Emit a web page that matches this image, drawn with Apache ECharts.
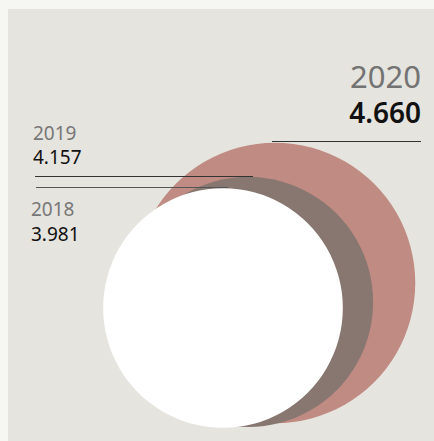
<!DOCTYPE html>
<html>
<head>
<meta charset="utf-8">
<script src="https://cdn.jsdelivr.net/npm/echarts@6/dist/echarts.min.js"></script>
<style>
  html, body { margin: 0; padding: 0; background: #f6f6f2; }
  #chart { width: 434px; height: 441px; }
</style>
</head>
<body>
<div id="chart"></div>
<script>
// data
const years = ["2018", "2019", "2020"];
const values = [3.981, 4.157, 4.660];
const valueLabels = ["3.981", "4.157", "4.660"];

// layout (pixel space of the hidden axes)
const centerX = [223, 248, 275];
const centerY = [308, 302, 283];
const PX_PER_UNIT = 30.1; // circle radius per value unit
const COLORS = ["#ffffff", "#877770", "#c08b82"];
const FONT = "'Noto Sans', 'Open Sans', sans-serif";

const chart = echarts.init(document.getElementById("chart"), null, { renderer: "svg" });

// lines from the labels to the top of each circle
const lineSpecs = [
  { from: 36, to: 228 },  // 2018
  { from: 35, to: 253 },  // 2019
  { from: 272, to: 421 }, // 2020
];
const lineColors = ["#555", "#333", "#333"];

// draw biggest first so the smaller circles sit on top
const order = [2, 1, 0];

const series = order.map((i) => {
  const r = values[i] * PX_PER_UNIT;
  const yLine = centerY[i] - r - 1;
  return {
    name: years[i],
    type: "scatter",
    symbol: "circle",
    symbolSize: r * 2,
    silent: true,
    itemStyle: { color: COLORS[i], opacity: 1 },
    data: [[centerX[i], centerY[i], values[i]]],
    markLine: {
      silent: true,
      symbol: "none",
      label: { show: false },
      lineStyle: { color: lineColors[i], width: 1, type: "solid" },
      data: [[
        { coord: [lineSpecs[i].from, yLine] },
        { coord: [lineSpecs[i].to, yLine] },
      ]],
    },
  };
});

const option = {
  backgroundColor: "#f6f6f2",
  animation: false,
  grid: {
    show: true,
    left: 8, top: 9, right: 0, bottom: 0,
    backgroundColor: "#e5e4de",
    borderWidth: 0,
  },
  xAxis: { type: "value", min: 8, max: 434, show: false },
  yAxis: { type: "value", min: 9, max: 441, inverse: true, show: false },
  series: series,
  graphic: [
    {
      type: "text", right: 13, top: 60,
      style: { text: years[2], font: "normal 31px " + FONT, fill: "#737373" },
    },
    {
      type: "text", right: 13, top: 98,
      style: { text: valueLabels[2], font: "600 28px " + FONT, fill: "#111" },
    },
    {
      type: "text", left: 33, top: 123,
      style: { text: years[1], font: "normal 19px " + FONT, fill: "#777" },
    },
    {
      type: "text", left: 33, top: 147,
      style: { text: valueLabels[1], font: "normal 19px " + FONT, fill: "#111" },
    },
    {
      type: "text", left: 31, top: 199,
      style: { text: years[0], font: "normal 19px " + FONT, fill: "#777" },
    },
    {
      type: "text", left: 31, top: 224,
      style: { text: valueLabels[0], font: "normal 19px " + FONT, fill: "#111" },
    },
  ],
};

chart.setOption(option);
</script>
</body>
</html>
